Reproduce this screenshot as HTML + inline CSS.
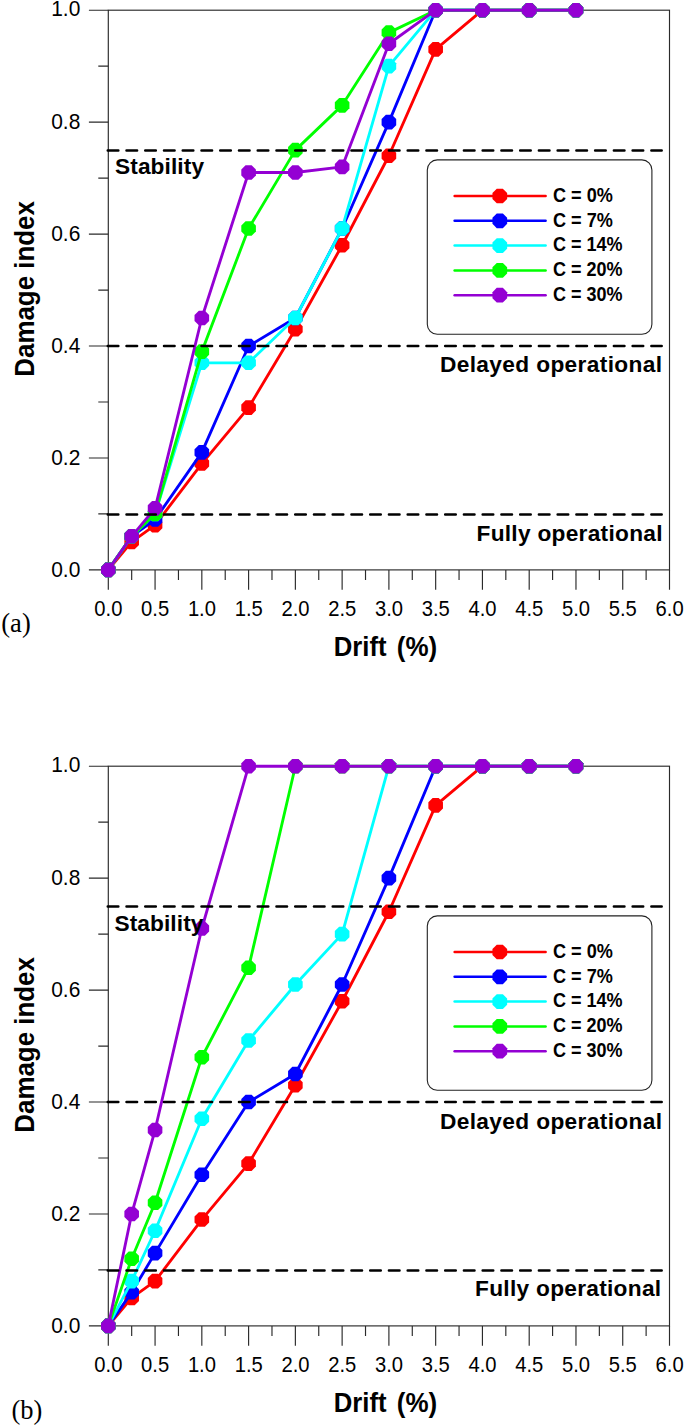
<!DOCTYPE html>
<html><head><meta charset="utf-8"><title>Damage index vs drift</title>
<style>
html,body{margin:0;padding:0;background:#fff;}
svg{display:block}
text{font-family:"Liberation Sans",sans-serif;fill:#000}
.tk{font-size:21.4px;fill:#000}
.an{font-size:22.7px;font-weight:bold}
.lg{font-size:20.1px;font-weight:bold}
.ax{font-size:28.1px;font-weight:bold}
.pl{font-family:"Liberation Serif",serif;font-size:26.5px}
</style></head><body>
<svg width="685" height="1425" viewBox="0 0 685 1425">
<rect width="685" height="1425" fill="#fff"/>
<g>
<rect x="108.3" y="10.2" width="561.20" height="559.70" fill="none" stroke="#2a2a2a" stroke-width="1.15"/>
<path d="M108.30 569.90v19.8M131.68 569.90v10M155.07 569.90v19.8M178.45 569.90v10M201.83 569.90v19.8M225.22 569.90v10M248.60 569.90v19.8M271.98 569.90v10M295.37 569.90v19.8M318.75 569.90v10M342.13 569.90v19.8M365.52 569.90v10M388.90 569.90v19.8M412.28 569.90v10M435.67 569.90v19.8M459.05 569.90v10M482.43 569.90v19.8M505.82 569.90v10M529.20 569.90v19.8M552.58 569.90v10M575.97 569.90v19.8M599.35 569.90v10M622.73 569.90v19.8M646.12 569.90v10M669.50 569.90v19.8M108.30 569.90h-19.4M108.30 513.93h-10M108.30 457.96h-19.4M108.30 401.99h-10M108.30 346.02h-19.4M108.30 290.05h-10M108.30 234.08h-19.4M108.30 178.11h-10M108.30 122.14h-19.4M108.30 66.17h-10M108.30 10.20h-19.4" stroke="#2a2a2a" stroke-width="1.15" fill="none"/>
<text class="tk" x="108.40" y="616.40" text-anchor="middle" textLength="28.1" lengthAdjust="spacingAndGlyphs">0.0</text>
<text class="tk" x="155.17" y="616.40" text-anchor="middle" textLength="28.1" lengthAdjust="spacingAndGlyphs">0.5</text>
<text class="tk" x="201.93" y="616.40" text-anchor="middle" textLength="28.1" lengthAdjust="spacingAndGlyphs">1.0</text>
<text class="tk" x="248.70" y="616.40" text-anchor="middle" textLength="28.1" lengthAdjust="spacingAndGlyphs">1.5</text>
<text class="tk" x="295.47" y="616.40" text-anchor="middle" textLength="28.1" lengthAdjust="spacingAndGlyphs">2.0</text>
<text class="tk" x="342.23" y="616.40" text-anchor="middle" textLength="28.1" lengthAdjust="spacingAndGlyphs">2.5</text>
<text class="tk" x="389.00" y="616.40" text-anchor="middle" textLength="28.1" lengthAdjust="spacingAndGlyphs">3.0</text>
<text class="tk" x="435.77" y="616.40" text-anchor="middle" textLength="28.1" lengthAdjust="spacingAndGlyphs">3.5</text>
<text class="tk" x="482.53" y="616.40" text-anchor="middle" textLength="28.1" lengthAdjust="spacingAndGlyphs">4.0</text>
<text class="tk" x="529.30" y="616.40" text-anchor="middle" textLength="28.1" lengthAdjust="spacingAndGlyphs">4.5</text>
<text class="tk" x="576.07" y="616.40" text-anchor="middle" textLength="28.1" lengthAdjust="spacingAndGlyphs">5.0</text>
<text class="tk" x="622.83" y="616.40" text-anchor="middle" textLength="28.1" lengthAdjust="spacingAndGlyphs">5.5</text>
<text class="tk" x="669.60" y="616.40" text-anchor="middle" textLength="28.1" lengthAdjust="spacingAndGlyphs">6.0</text>
<text class="tk" x="80.3" y="577.40" text-anchor="end" textLength="29.1" lengthAdjust="spacingAndGlyphs">0.0</text>
<text class="tk" x="80.3" y="465.34" text-anchor="end" textLength="29.1" lengthAdjust="spacingAndGlyphs">0.2</text>
<text class="tk" x="80.3" y="353.28" text-anchor="end" textLength="29.1" lengthAdjust="spacingAndGlyphs">0.4</text>
<text class="tk" x="80.3" y="241.22" text-anchor="end" textLength="29.1" lengthAdjust="spacingAndGlyphs">0.6</text>
<text class="tk" x="80.3" y="129.16" text-anchor="end" textLength="29.1" lengthAdjust="spacingAndGlyphs">0.8</text>
<text class="tk" x="80.3" y="16.20" text-anchor="end" textLength="29.1" lengthAdjust="spacingAndGlyphs">1.0</text>
<polyline points="108.30,569.90 131.68,541.91 155.07,525.12 201.83,463.56 248.60,407.59 295.37,329.23 342.13,245.27 388.90,155.72 435.67,49.38 482.43,10.20 529.20,10.20 575.97,10.20" fill="none" stroke="#ff0000" stroke-width="2.85" stroke-linejoin="round"/>
<polygon points="115.60,572.92 111.32,577.20 105.28,577.20 101.00,572.92 101.00,566.88 105.28,562.60 111.32,562.60 115.60,566.88" fill="#ff0000"/>
<polygon points="138.98,544.94 134.71,549.21 128.66,549.21 124.38,544.94 124.38,538.89 128.66,534.62 134.71,534.62 138.98,538.89" fill="#ff0000"/>
<polygon points="162.37,528.15 158.09,532.42 152.04,532.42 147.77,528.15 147.77,522.10 152.04,517.82 158.09,517.82 162.37,522.10" fill="#ff0000"/>
<polygon points="209.13,466.58 204.86,470.86 198.81,470.86 194.53,466.58 194.53,460.53 198.81,456.26 204.86,456.26 209.13,460.53" fill="#ff0000"/>
<polygon points="255.90,410.61 251.62,414.89 245.58,414.89 241.30,410.61 241.30,404.56 245.58,400.29 251.62,400.29 255.90,404.56" fill="#ff0000"/>
<polygon points="302.67,332.25 298.39,336.53 292.34,336.53 288.07,332.25 288.07,326.21 292.34,321.93 298.39,321.93 302.67,326.21" fill="#ff0000"/>
<polygon points="349.43,248.30 345.16,252.57 339.11,252.57 334.83,248.30 334.83,242.25 339.11,237.97 345.16,237.97 349.43,242.25" fill="#ff0000"/>
<polygon points="396.20,158.75 391.92,163.02 385.88,163.02 381.60,158.75 381.60,152.70 385.88,148.42 391.92,148.42 396.20,152.70" fill="#ff0000"/>
<polygon points="442.97,52.40 438.69,56.68 432.64,56.68 428.37,52.40 428.37,46.36 432.64,42.08 438.69,42.08 442.97,46.36" fill="#ff0000"/>
<polygon points="489.73,13.22 485.46,17.50 479.41,17.50 475.13,13.22 475.13,7.18 479.41,2.90 485.46,2.90 489.73,7.18" fill="#ff0000"/>
<polygon points="536.50,13.22 532.22,17.50 526.18,17.50 521.90,13.22 521.90,7.18 526.18,2.90 532.22,2.90 536.50,7.18" fill="#ff0000"/>
<polygon points="583.27,13.22 578.99,17.50 572.94,17.50 568.67,13.22 568.67,7.18 572.94,2.90 578.99,2.90 583.27,7.18" fill="#ff0000"/>
<polyline points="108.30,569.90 131.68,536.32 155.07,519.53 201.83,452.36 248.60,346.02 295.37,318.03 342.13,228.48 388.90,122.14 435.67,10.20 482.43,10.20 529.20,10.20 575.97,10.20" fill="none" stroke="#0000ff" stroke-width="2.85" stroke-linejoin="round"/>
<polygon points="115.60,572.92 111.32,577.20 105.28,577.20 101.00,572.92 101.00,566.88 105.28,562.60 111.32,562.60 115.60,566.88" fill="#0000ff"/>
<polygon points="138.98,539.34 134.71,543.62 128.66,543.62 124.38,539.34 124.38,533.29 128.66,529.02 134.71,529.02 138.98,533.29" fill="#0000ff"/>
<polygon points="162.37,522.55 158.09,526.83 152.04,526.83 147.77,522.55 147.77,516.50 152.04,512.23 158.09,512.23 162.37,516.50" fill="#0000ff"/>
<polygon points="209.13,455.39 204.86,459.66 198.81,459.66 194.53,455.39 194.53,449.34 198.81,445.06 204.86,445.06 209.13,449.34" fill="#0000ff"/>
<polygon points="255.90,349.04 251.62,353.32 245.58,353.32 241.30,349.04 241.30,343.00 245.58,338.72 251.62,338.72 255.90,343.00" fill="#0000ff"/>
<polygon points="302.67,321.06 298.39,325.33 292.34,325.33 288.07,321.06 288.07,315.01 292.34,310.73 298.39,310.73 302.67,315.01" fill="#0000ff"/>
<polygon points="349.43,231.51 345.16,235.78 339.11,235.78 334.83,231.51 334.83,225.46 339.11,221.18 345.16,221.18 349.43,225.46" fill="#0000ff"/>
<polygon points="396.20,125.16 391.92,129.44 385.88,129.44 381.60,125.16 381.60,119.12 385.88,114.84 391.92,114.84 396.20,119.12" fill="#0000ff"/>
<polygon points="442.97,13.22 438.69,17.50 432.64,17.50 428.37,13.22 428.37,7.18 432.64,2.90 438.69,2.90 442.97,7.18" fill="#0000ff"/>
<polygon points="489.73,13.22 485.46,17.50 479.41,17.50 475.13,13.22 475.13,7.18 479.41,2.90 485.46,2.90 489.73,7.18" fill="#0000ff"/>
<polygon points="536.50,13.22 532.22,17.50 526.18,17.50 521.90,13.22 521.90,7.18 526.18,2.90 532.22,2.90 536.50,7.18" fill="#0000ff"/>
<polygon points="583.27,13.22 578.99,17.50 572.94,17.50 568.67,13.22 568.67,7.18 572.94,2.90 578.99,2.90 583.27,7.18" fill="#0000ff"/>
<polyline points="108.30,569.90 131.68,536.32 155.07,513.93 201.83,362.81 248.60,362.81 295.37,318.03 342.13,228.48 388.90,66.17 435.67,10.20 482.43,10.20 529.20,10.20 575.97,10.20" fill="none" stroke="#00ffff" stroke-width="2.85" stroke-linejoin="round"/>
<polygon points="115.60,572.92 111.32,577.20 105.28,577.20 101.00,572.92 101.00,566.88 105.28,562.60 111.32,562.60 115.60,566.88" fill="#00ffff"/>
<polygon points="138.98,539.34 134.71,543.62 128.66,543.62 124.38,539.34 124.38,533.29 128.66,529.02 134.71,529.02 138.98,533.29" fill="#00ffff"/>
<polygon points="162.37,516.95 158.09,521.23 152.04,521.23 147.77,516.95 147.77,510.91 152.04,506.63 158.09,506.63 162.37,510.91" fill="#00ffff"/>
<polygon points="209.13,365.83 204.86,370.11 198.81,370.11 194.53,365.83 194.53,359.79 198.81,355.51 204.86,355.51 209.13,359.79" fill="#00ffff"/>
<polygon points="255.90,365.83 251.62,370.11 245.58,370.11 241.30,365.83 241.30,359.79 245.58,355.51 251.62,355.51 255.90,359.79" fill="#00ffff"/>
<polygon points="302.67,321.06 298.39,325.33 292.34,325.33 288.07,321.06 288.07,315.01 292.34,310.73 298.39,310.73 302.67,315.01" fill="#00ffff"/>
<polygon points="349.43,231.51 345.16,235.78 339.11,235.78 334.83,231.51 334.83,225.46 339.11,221.18 345.16,221.18 349.43,225.46" fill="#00ffff"/>
<polygon points="396.20,69.19 391.92,73.47 385.88,73.47 381.60,69.19 381.60,63.15 385.88,58.87 391.92,58.87 396.20,63.15" fill="#00ffff"/>
<polygon points="442.97,13.22 438.69,17.50 432.64,17.50 428.37,13.22 428.37,7.18 432.64,2.90 438.69,2.90 442.97,7.18" fill="#00ffff"/>
<polygon points="489.73,13.22 485.46,17.50 479.41,17.50 475.13,13.22 475.13,7.18 479.41,2.90 485.46,2.90 489.73,7.18" fill="#00ffff"/>
<polygon points="536.50,13.22 532.22,17.50 526.18,17.50 521.90,13.22 521.90,7.18 526.18,2.90 532.22,2.90 536.50,7.18" fill="#00ffff"/>
<polygon points="583.27,13.22 578.99,17.50 572.94,17.50 568.67,13.22 568.67,7.18 572.94,2.90 578.99,2.90 583.27,7.18" fill="#00ffff"/>
<polyline points="108.30,569.90 131.68,536.32 155.07,513.93 201.83,351.62 248.60,228.48 295.37,150.12 342.13,105.35 388.90,32.59 435.67,10.20 482.43,10.20 529.20,10.20 575.97,10.20" fill="none" stroke="#00ff00" stroke-width="2.85" stroke-linejoin="round"/>
<polygon points="115.60,572.92 111.32,577.20 105.28,577.20 101.00,572.92 101.00,566.88 105.28,562.60 111.32,562.60 115.60,566.88" fill="#00ff00"/>
<polygon points="138.98,539.34 134.71,543.62 128.66,543.62 124.38,539.34 124.38,533.29 128.66,529.02 134.71,529.02 138.98,533.29" fill="#00ff00"/>
<polygon points="162.37,516.95 158.09,521.23 152.04,521.23 147.77,516.95 147.77,510.91 152.04,506.63 158.09,506.63 162.37,510.91" fill="#00ff00"/>
<polygon points="209.13,354.64 204.86,358.92 198.81,358.92 194.53,354.64 194.53,348.59 198.81,344.32 204.86,344.32 209.13,348.59" fill="#00ff00"/>
<polygon points="255.90,231.51 251.62,235.78 245.58,235.78 241.30,231.51 241.30,225.46 245.58,221.18 251.62,221.18 255.90,225.46" fill="#00ff00"/>
<polygon points="302.67,153.15 298.39,157.43 292.34,157.43 288.07,153.15 288.07,147.10 292.34,142.82 298.39,142.82 302.67,147.10" fill="#00ff00"/>
<polygon points="349.43,108.37 345.16,112.65 339.11,112.65 334.83,108.37 334.83,102.33 339.11,98.05 345.16,98.05 349.43,102.33" fill="#00ff00"/>
<polygon points="396.20,35.61 391.92,39.89 385.88,39.89 381.60,35.61 381.60,29.56 385.88,25.29 391.92,25.29 396.20,29.56" fill="#00ff00"/>
<polygon points="442.97,13.22 438.69,17.50 432.64,17.50 428.37,13.22 428.37,7.18 432.64,2.90 438.69,2.90 442.97,7.18" fill="#00ff00"/>
<polygon points="489.73,13.22 485.46,17.50 479.41,17.50 475.13,13.22 475.13,7.18 479.41,2.90 485.46,2.90 489.73,7.18" fill="#00ff00"/>
<polygon points="536.50,13.22 532.22,17.50 526.18,17.50 521.90,13.22 521.90,7.18 526.18,2.90 532.22,2.90 536.50,7.18" fill="#00ff00"/>
<polygon points="583.27,13.22 578.99,17.50 572.94,17.50 568.67,13.22 568.67,7.18 572.94,2.90 578.99,2.90 583.27,7.18" fill="#00ff00"/>
<polyline points="108.30,569.90 131.68,536.32 155.07,508.33 201.83,318.03 248.60,172.51 295.37,172.51 342.13,166.92 388.90,43.78 435.67,10.20 482.43,10.20 529.20,10.20 575.97,10.20" fill="none" stroke="#9400d3" stroke-width="2.85" stroke-linejoin="round"/>
<polygon points="115.60,572.92 111.32,577.20 105.28,577.20 101.00,572.92 101.00,566.88 105.28,562.60 111.32,562.60 115.60,566.88" fill="#9400d3"/>
<polygon points="138.98,539.34 134.71,543.62 128.66,543.62 124.38,539.34 124.38,533.29 128.66,529.02 134.71,529.02 138.98,533.29" fill="#9400d3"/>
<polygon points="162.37,511.36 158.09,515.63 152.04,515.63 147.77,511.36 147.77,505.31 152.04,501.03 158.09,501.03 162.37,505.31" fill="#9400d3"/>
<polygon points="209.13,321.06 204.86,325.33 198.81,325.33 194.53,321.06 194.53,315.01 198.81,310.73 204.86,310.73 209.13,315.01" fill="#9400d3"/>
<polygon points="255.90,175.54 251.62,179.81 245.58,179.81 241.30,175.54 241.30,169.49 245.58,165.21 251.62,165.21 255.90,169.49" fill="#9400d3"/>
<polygon points="302.67,175.54 298.39,179.81 292.34,179.81 288.07,175.54 288.07,169.49 292.34,165.21 298.39,165.21 302.67,169.49" fill="#9400d3"/>
<polygon points="349.43,169.94 345.16,174.22 339.11,174.22 334.83,169.94 334.83,163.89 339.11,159.62 345.16,159.62 349.43,163.89" fill="#9400d3"/>
<polygon points="396.20,46.81 391.92,51.08 385.88,51.08 381.60,46.81 381.60,40.76 385.88,36.48 391.92,36.48 396.20,40.76" fill="#9400d3"/>
<polygon points="442.97,13.22 438.69,17.50 432.64,17.50 428.37,13.22 428.37,7.18 432.64,2.90 438.69,2.90 442.97,7.18" fill="#9400d3"/>
<polygon points="489.73,13.22 485.46,17.50 479.41,17.50 475.13,13.22 475.13,7.18 479.41,2.90 485.46,2.90 489.73,7.18" fill="#9400d3"/>
<polygon points="536.50,13.22 532.22,17.50 526.18,17.50 521.90,13.22 521.90,7.18 526.18,2.90 532.22,2.90 536.50,7.18" fill="#9400d3"/>
<polygon points="583.27,13.22 578.99,17.50 572.94,17.50 568.67,13.22 568.67,7.18 572.94,2.90 578.99,2.90 583.27,7.18" fill="#9400d3"/>
<line x1="107.75" y1="150.50" x2="661.7" y2="150.50" stroke="#000" stroke-width="2.5" stroke-linecap="round" stroke-dasharray="10.6 8.145"/>
<line x1="107.75" y1="346.00" x2="661.7" y2="346.00" stroke="#000" stroke-width="2.5" stroke-linecap="round" stroke-dasharray="10.6 8.145"/>
<line x1="107.75" y1="514.40" x2="661.7" y2="514.40" stroke="#000" stroke-width="2.5" stroke-linecap="round" stroke-dasharray="10.6 8.145"/>
<text class="an" x="115" y="174.3" textLength="89" lengthAdjust="spacing">Stability</text>
<text class="an" x="439.9" y="371.7" textLength="222.2" lengthAdjust="spacing">Delayed operational</text>
<text class="an" x="476.5" y="541.3" textLength="186.0" lengthAdjust="spacing">Fully operational</text>
<rect x="427.3" y="159.9" width="224.6" height="174.3" rx="10" ry="10" fill="#fff" stroke="#222" stroke-width="1.1"/>
<line x1="454.6" y1="196.00" x2="545.6" y2="196.00" stroke="#ff0000" stroke-width="2.5" stroke-linecap="round"/>
<polygon points="507.15,199.04 502.84,203.35 496.76,203.35 492.45,199.04 492.45,192.96 496.76,188.65 502.84,188.65 507.15,192.96" fill="#ff0000"/>
<text class="lg" x="553.0" y="201.70" textLength="59.9" lengthAdjust="spacingAndGlyphs">C = 0%</text>
<line x1="454.6" y1="220.80" x2="545.6" y2="220.80" stroke="#0000ff" stroke-width="2.5" stroke-linecap="round"/>
<polygon points="507.15,223.84 502.84,228.15 496.76,228.15 492.45,223.84 492.45,217.76 496.76,213.45 502.84,213.45 507.15,217.76" fill="#0000ff"/>
<text class="lg" x="553.0" y="226.50" textLength="59.9" lengthAdjust="spacingAndGlyphs">C = 7%</text>
<line x1="454.6" y1="245.60" x2="545.6" y2="245.60" stroke="#00ffff" stroke-width="2.5" stroke-linecap="round"/>
<polygon points="507.15,248.64 502.84,252.95 496.76,252.95 492.45,248.64 492.45,242.56 496.76,238.25 502.84,238.25 507.15,242.56" fill="#00ffff"/>
<text class="lg" x="553.0" y="251.30" textLength="69.6" lengthAdjust="spacingAndGlyphs">C = 14%</text>
<line x1="454.6" y1="270.40" x2="545.6" y2="270.40" stroke="#00ff00" stroke-width="2.5" stroke-linecap="round"/>
<polygon points="507.15,273.44 502.84,277.75 496.76,277.75 492.45,273.44 492.45,267.36 496.76,263.05 502.84,263.05 507.15,267.36" fill="#00ff00"/>
<text class="lg" x="553.0" y="276.10" textLength="69.6" lengthAdjust="spacingAndGlyphs">C = 20%</text>
<line x1="454.6" y1="295.20" x2="545.6" y2="295.20" stroke="#9400d3" stroke-width="2.5" stroke-linecap="round"/>
<polygon points="507.15,298.24 502.84,302.55 496.76,302.55 492.45,298.24 492.45,292.16 496.76,287.85 502.84,287.85 507.15,292.16" fill="#9400d3"/>
<text class="lg" x="553.0" y="300.90" textLength="69.6" lengthAdjust="spacingAndGlyphs">C = 30%</text>
<text class="ax" x="333.8" y="656.3" textLength="52.8" lengthAdjust="spacingAndGlyphs">Drift</text>
<text class="ax" x="396.8" y="656.3" textLength="40.4" lengthAdjust="spacingAndGlyphs">(%)</text>
<text class="ax" transform="translate(34.3 288.9) rotate(-90)" text-anchor="middle" textLength="175.6" lengthAdjust="spacingAndGlyphs">Damage index</text>
<text class="pl" x="1.3" y="632.1">(a)</text>
</g>
<g>
<rect x="108.3" y="766.2" width="561.20" height="559.70" fill="none" stroke="#2a2a2a" stroke-width="1.15"/>
<path d="M108.30 1325.90v19.8M131.68 1325.90v10M155.07 1325.90v19.8M178.45 1325.90v10M201.83 1325.90v19.8M225.22 1325.90v10M248.60 1325.90v19.8M271.98 1325.90v10M295.37 1325.90v19.8M318.75 1325.90v10M342.13 1325.90v19.8M365.52 1325.90v10M388.90 1325.90v19.8M412.28 1325.90v10M435.67 1325.90v19.8M459.05 1325.90v10M482.43 1325.90v19.8M505.82 1325.90v10M529.20 1325.90v19.8M552.58 1325.90v10M575.97 1325.90v19.8M599.35 1325.90v10M622.73 1325.90v19.8M646.12 1325.90v10M669.50 1325.90v19.8M108.30 1325.90h-19.4M108.30 1269.93h-10M108.30 1213.96h-19.4M108.30 1157.99h-10M108.30 1102.02h-19.4M108.30 1046.05h-10M108.30 990.08h-19.4M108.30 934.11h-10M108.30 878.14h-19.4M108.30 822.17h-10M108.30 766.20h-19.4" stroke="#2a2a2a" stroke-width="1.15" fill="none"/>
<text class="tk" x="108.40" y="1372.40" text-anchor="middle" textLength="28.1" lengthAdjust="spacingAndGlyphs">0.0</text>
<text class="tk" x="155.17" y="1372.40" text-anchor="middle" textLength="28.1" lengthAdjust="spacingAndGlyphs">0.5</text>
<text class="tk" x="201.93" y="1372.40" text-anchor="middle" textLength="28.1" lengthAdjust="spacingAndGlyphs">1.0</text>
<text class="tk" x="248.70" y="1372.40" text-anchor="middle" textLength="28.1" lengthAdjust="spacingAndGlyphs">1.5</text>
<text class="tk" x="295.47" y="1372.40" text-anchor="middle" textLength="28.1" lengthAdjust="spacingAndGlyphs">2.0</text>
<text class="tk" x="342.23" y="1372.40" text-anchor="middle" textLength="28.1" lengthAdjust="spacingAndGlyphs">2.5</text>
<text class="tk" x="389.00" y="1372.40" text-anchor="middle" textLength="28.1" lengthAdjust="spacingAndGlyphs">3.0</text>
<text class="tk" x="435.77" y="1372.40" text-anchor="middle" textLength="28.1" lengthAdjust="spacingAndGlyphs">3.5</text>
<text class="tk" x="482.53" y="1372.40" text-anchor="middle" textLength="28.1" lengthAdjust="spacingAndGlyphs">4.0</text>
<text class="tk" x="529.30" y="1372.40" text-anchor="middle" textLength="28.1" lengthAdjust="spacingAndGlyphs">4.5</text>
<text class="tk" x="576.07" y="1372.40" text-anchor="middle" textLength="28.1" lengthAdjust="spacingAndGlyphs">5.0</text>
<text class="tk" x="622.83" y="1372.40" text-anchor="middle" textLength="28.1" lengthAdjust="spacingAndGlyphs">5.5</text>
<text class="tk" x="669.60" y="1372.40" text-anchor="middle" textLength="28.1" lengthAdjust="spacingAndGlyphs">6.0</text>
<text class="tk" x="80.3" y="1333.40" text-anchor="end" textLength="29.1" lengthAdjust="spacingAndGlyphs">0.0</text>
<text class="tk" x="80.3" y="1221.34" text-anchor="end" textLength="29.1" lengthAdjust="spacingAndGlyphs">0.2</text>
<text class="tk" x="80.3" y="1109.28" text-anchor="end" textLength="29.1" lengthAdjust="spacingAndGlyphs">0.4</text>
<text class="tk" x="80.3" y="997.22" text-anchor="end" textLength="29.1" lengthAdjust="spacingAndGlyphs">0.6</text>
<text class="tk" x="80.3" y="885.16" text-anchor="end" textLength="29.1" lengthAdjust="spacingAndGlyphs">0.8</text>
<text class="tk" x="80.3" y="772.20" text-anchor="end" textLength="29.1" lengthAdjust="spacingAndGlyphs">1.0</text>
<polyline points="108.30,1325.90 131.68,1297.91 155.07,1281.12 201.83,1219.56 248.60,1163.59 295.37,1085.23 342.13,1001.27 388.90,911.72 435.67,805.38 482.43,766.20 529.20,766.20 575.97,766.20" fill="none" stroke="#ff0000" stroke-width="2.85" stroke-linejoin="round"/>
<polygon points="115.60,1328.92 111.32,1333.20 105.28,1333.20 101.00,1328.92 101.00,1322.88 105.28,1318.60 111.32,1318.60 115.60,1322.88" fill="#ff0000"/>
<polygon points="138.98,1300.94 134.71,1305.21 128.66,1305.21 124.38,1300.94 124.38,1294.89 128.66,1290.62 134.71,1290.62 138.98,1294.89" fill="#ff0000"/>
<polygon points="162.37,1284.15 158.09,1288.42 152.04,1288.42 147.77,1284.15 147.77,1278.10 152.04,1273.82 158.09,1273.82 162.37,1278.10" fill="#ff0000"/>
<polygon points="209.13,1222.58 204.86,1226.86 198.81,1226.86 194.53,1222.58 194.53,1216.53 198.81,1212.26 204.86,1212.26 209.13,1216.53" fill="#ff0000"/>
<polygon points="255.90,1166.61 251.62,1170.89 245.58,1170.89 241.30,1166.61 241.30,1160.56 245.58,1156.29 251.62,1156.29 255.90,1160.56" fill="#ff0000"/>
<polygon points="302.67,1088.25 298.39,1092.53 292.34,1092.53 288.07,1088.25 288.07,1082.21 292.34,1077.93 298.39,1077.93 302.67,1082.21" fill="#ff0000"/>
<polygon points="349.43,1004.30 345.16,1008.57 339.11,1008.57 334.83,1004.30 334.83,998.25 339.11,993.97 345.16,993.97 349.43,998.25" fill="#ff0000"/>
<polygon points="396.20,914.75 391.92,919.02 385.88,919.02 381.60,914.75 381.60,908.70 385.88,904.42 391.92,904.42 396.20,908.70" fill="#ff0000"/>
<polygon points="442.97,808.40 438.69,812.68 432.64,812.68 428.37,808.40 428.37,802.36 432.64,798.08 438.69,798.08 442.97,802.36" fill="#ff0000"/>
<polygon points="489.73,769.22 485.46,773.50 479.41,773.50 475.13,769.22 475.13,763.18 479.41,758.90 485.46,758.90 489.73,763.18" fill="#ff0000"/>
<polygon points="536.50,769.22 532.22,773.50 526.18,773.50 521.90,769.22 521.90,763.18 526.18,758.90 532.22,758.90 536.50,763.18" fill="#ff0000"/>
<polygon points="583.27,769.22 578.99,773.50 572.94,773.50 568.67,769.22 568.67,763.18 572.94,758.90 578.99,758.90 583.27,763.18" fill="#ff0000"/>
<polyline points="108.30,1325.90 131.68,1292.32 155.07,1253.14 201.83,1174.78 248.60,1102.02 295.37,1074.03 342.13,984.48 388.90,878.14 435.67,766.20 482.43,766.20 529.20,766.20 575.97,766.20" fill="none" stroke="#0000ff" stroke-width="2.85" stroke-linejoin="round"/>
<polygon points="115.60,1328.92 111.32,1333.20 105.28,1333.20 101.00,1328.92 101.00,1322.88 105.28,1318.60 111.32,1318.60 115.60,1322.88" fill="#0000ff"/>
<polygon points="138.98,1295.34 134.71,1299.62 128.66,1299.62 124.38,1295.34 124.38,1289.29 128.66,1285.02 134.71,1285.02 138.98,1289.29" fill="#0000ff"/>
<polygon points="162.37,1256.16 158.09,1260.44 152.04,1260.44 147.77,1256.16 147.77,1250.12 152.04,1245.84 158.09,1245.84 162.37,1250.12" fill="#0000ff"/>
<polygon points="209.13,1177.80 204.86,1182.08 198.81,1182.08 194.53,1177.80 194.53,1171.76 198.81,1167.48 204.86,1167.48 209.13,1171.76" fill="#0000ff"/>
<polygon points="255.90,1105.04 251.62,1109.32 245.58,1109.32 241.30,1105.04 241.30,1099.00 245.58,1094.72 251.62,1094.72 255.90,1099.00" fill="#0000ff"/>
<polygon points="302.67,1077.06 298.39,1081.33 292.34,1081.33 288.07,1077.06 288.07,1071.01 292.34,1066.73 298.39,1066.73 302.67,1071.01" fill="#0000ff"/>
<polygon points="349.43,987.51 345.16,991.78 339.11,991.78 334.83,987.51 334.83,981.46 339.11,977.18 345.16,977.18 349.43,981.46" fill="#0000ff"/>
<polygon points="396.20,881.16 391.92,885.44 385.88,885.44 381.60,881.16 381.60,875.12 385.88,870.84 391.92,870.84 396.20,875.12" fill="#0000ff"/>
<polygon points="442.97,769.22 438.69,773.50 432.64,773.50 428.37,769.22 428.37,763.18 432.64,758.90 438.69,758.90 442.97,763.18" fill="#0000ff"/>
<polygon points="489.73,769.22 485.46,773.50 479.41,773.50 475.13,769.22 475.13,763.18 479.41,758.90 485.46,758.90 489.73,763.18" fill="#0000ff"/>
<polygon points="536.50,769.22 532.22,773.50 526.18,773.50 521.90,769.22 521.90,763.18 526.18,758.90 532.22,758.90 536.50,763.18" fill="#0000ff"/>
<polygon points="583.27,769.22 578.99,773.50 572.94,773.50 568.67,769.22 568.67,763.18 572.94,758.90 578.99,758.90 583.27,763.18" fill="#0000ff"/>
<polyline points="108.30,1325.90 131.68,1281.12 155.07,1230.75 201.83,1118.81 248.60,1040.45 295.37,984.48 342.13,934.11 388.90,766.20 435.67,766.20 482.43,766.20 529.20,766.20 575.97,766.20" fill="none" stroke="#00ffff" stroke-width="2.85" stroke-linejoin="round"/>
<polygon points="115.60,1328.92 111.32,1333.20 105.28,1333.20 101.00,1328.92 101.00,1322.88 105.28,1318.60 111.32,1318.60 115.60,1322.88" fill="#00ffff"/>
<polygon points="138.98,1284.15 134.71,1288.42 128.66,1288.42 124.38,1284.15 124.38,1278.10 128.66,1273.82 134.71,1273.82 138.98,1278.10" fill="#00ffff"/>
<polygon points="162.37,1233.77 158.09,1238.05 152.04,1238.05 147.77,1233.77 147.77,1227.73 152.04,1223.45 158.09,1223.45 162.37,1227.73" fill="#00ffff"/>
<polygon points="209.13,1121.83 204.86,1126.11 198.81,1126.11 194.53,1121.83 194.53,1115.79 198.81,1111.51 204.86,1111.51 209.13,1115.79" fill="#00ffff"/>
<polygon points="255.90,1043.48 251.62,1047.75 245.58,1047.75 241.30,1043.48 241.30,1037.43 245.58,1033.15 251.62,1033.15 255.90,1037.43" fill="#00ffff"/>
<polygon points="302.67,987.51 298.39,991.78 292.34,991.78 288.07,987.51 288.07,981.46 292.34,977.18 298.39,977.18 302.67,981.46" fill="#00ffff"/>
<polygon points="349.43,937.13 345.16,941.41 339.11,941.41 334.83,937.13 334.83,931.09 339.11,926.81 345.16,926.81 349.43,931.09" fill="#00ffff"/>
<polygon points="396.20,769.22 391.92,773.50 385.88,773.50 381.60,769.22 381.60,763.18 385.88,758.90 391.92,758.90 396.20,763.18" fill="#00ffff"/>
<polygon points="442.97,769.22 438.69,773.50 432.64,773.50 428.37,769.22 428.37,763.18 432.64,758.90 438.69,758.90 442.97,763.18" fill="#00ffff"/>
<polygon points="489.73,769.22 485.46,773.50 479.41,773.50 475.13,769.22 475.13,763.18 479.41,758.90 485.46,758.90 489.73,763.18" fill="#00ffff"/>
<polygon points="536.50,769.22 532.22,773.50 526.18,773.50 521.90,769.22 521.90,763.18 526.18,758.90 532.22,758.90 536.50,763.18" fill="#00ffff"/>
<polygon points="583.27,769.22 578.99,773.50 572.94,773.50 568.67,769.22 568.67,763.18 572.94,758.90 578.99,758.90 583.27,763.18" fill="#00ffff"/>
<polyline points="108.30,1325.90 131.68,1258.74 155.07,1202.77 201.83,1057.24 248.60,967.69 295.37,766.20 342.13,766.20 388.90,766.20 435.67,766.20 482.43,766.20 529.20,766.20 575.97,766.20" fill="none" stroke="#00ff00" stroke-width="2.85" stroke-linejoin="round"/>
<polygon points="115.60,1328.92 111.32,1333.20 105.28,1333.20 101.00,1328.92 101.00,1322.88 105.28,1318.60 111.32,1318.60 115.60,1322.88" fill="#00ff00"/>
<polygon points="138.98,1261.76 134.71,1266.04 128.66,1266.04 124.38,1261.76 124.38,1255.71 128.66,1251.44 134.71,1251.44 138.98,1255.71" fill="#00ff00"/>
<polygon points="162.37,1205.79 158.09,1210.07 152.04,1210.07 147.77,1205.79 147.77,1199.74 152.04,1195.47 158.09,1195.47 162.37,1199.74" fill="#00ff00"/>
<polygon points="209.13,1060.27 204.86,1064.54 198.81,1064.54 194.53,1060.27 194.53,1054.22 198.81,1049.94 204.86,1049.94 209.13,1054.22" fill="#00ff00"/>
<polygon points="255.90,970.72 251.62,974.99 245.58,974.99 241.30,970.72 241.30,964.67 245.58,960.39 251.62,960.39 255.90,964.67" fill="#00ff00"/>
<polygon points="302.67,769.22 298.39,773.50 292.34,773.50 288.07,769.22 288.07,763.18 292.34,758.90 298.39,758.90 302.67,763.18" fill="#00ff00"/>
<polygon points="349.43,769.22 345.16,773.50 339.11,773.50 334.83,769.22 334.83,763.18 339.11,758.90 345.16,758.90 349.43,763.18" fill="#00ff00"/>
<polygon points="396.20,769.22 391.92,773.50 385.88,773.50 381.60,769.22 381.60,763.18 385.88,758.90 391.92,758.90 396.20,763.18" fill="#00ff00"/>
<polygon points="442.97,769.22 438.69,773.50 432.64,773.50 428.37,769.22 428.37,763.18 432.64,758.90 438.69,758.90 442.97,763.18" fill="#00ff00"/>
<polygon points="489.73,769.22 485.46,773.50 479.41,773.50 475.13,769.22 475.13,763.18 479.41,758.90 485.46,758.90 489.73,763.18" fill="#00ff00"/>
<polygon points="536.50,769.22 532.22,773.50 526.18,773.50 521.90,769.22 521.90,763.18 526.18,758.90 532.22,758.90 536.50,763.18" fill="#00ff00"/>
<polygon points="583.27,769.22 578.99,773.50 572.94,773.50 568.67,769.22 568.67,763.18 572.94,758.90 578.99,758.90 583.27,763.18" fill="#00ff00"/>
<polyline points="108.30,1325.90 131.68,1213.96 155.07,1130.01 201.83,928.51 248.60,766.20 295.37,766.20 342.13,766.20 388.90,766.20 435.67,766.20 482.43,766.20 529.20,766.20 575.97,766.20" fill="none" stroke="#9400d3" stroke-width="2.85" stroke-linejoin="round"/>
<polygon points="115.60,1328.92 111.32,1333.20 105.28,1333.20 101.00,1328.92 101.00,1322.88 105.28,1318.60 111.32,1318.60 115.60,1322.88" fill="#9400d3"/>
<polygon points="138.98,1216.98 134.71,1221.26 128.66,1221.26 124.38,1216.98 124.38,1210.94 128.66,1206.66 134.71,1206.66 138.98,1210.94" fill="#9400d3"/>
<polygon points="162.37,1133.03 158.09,1137.31 152.04,1137.31 147.77,1133.03 147.77,1126.98 152.04,1122.71 158.09,1122.71 162.37,1126.98" fill="#9400d3"/>
<polygon points="209.13,931.54 204.86,935.81 198.81,935.81 194.53,931.54 194.53,925.49 198.81,921.21 204.86,921.21 209.13,925.49" fill="#9400d3"/>
<polygon points="255.90,769.22 251.62,773.50 245.58,773.50 241.30,769.22 241.30,763.18 245.58,758.90 251.62,758.90 255.90,763.18" fill="#9400d3"/>
<polygon points="302.67,769.22 298.39,773.50 292.34,773.50 288.07,769.22 288.07,763.18 292.34,758.90 298.39,758.90 302.67,763.18" fill="#9400d3"/>
<polygon points="349.43,769.22 345.16,773.50 339.11,773.50 334.83,769.22 334.83,763.18 339.11,758.90 345.16,758.90 349.43,763.18" fill="#9400d3"/>
<polygon points="396.20,769.22 391.92,773.50 385.88,773.50 381.60,769.22 381.60,763.18 385.88,758.90 391.92,758.90 396.20,763.18" fill="#9400d3"/>
<polygon points="442.97,769.22 438.69,773.50 432.64,773.50 428.37,769.22 428.37,763.18 432.64,758.90 438.69,758.90 442.97,763.18" fill="#9400d3"/>
<polygon points="489.73,769.22 485.46,773.50 479.41,773.50 475.13,769.22 475.13,763.18 479.41,758.90 485.46,758.90 489.73,763.18" fill="#9400d3"/>
<polygon points="536.50,769.22 532.22,773.50 526.18,773.50 521.90,769.22 521.90,763.18 526.18,758.90 532.22,758.90 536.50,763.18" fill="#9400d3"/>
<polygon points="583.27,769.22 578.99,773.50 572.94,773.50 568.67,769.22 568.67,763.18 572.94,758.90 578.99,758.90 583.27,763.18" fill="#9400d3"/>
<line x1="107.75" y1="906.50" x2="661.7" y2="906.50" stroke="#000" stroke-width="2.5" stroke-linecap="round" stroke-dasharray="10.6 8.145"/>
<line x1="107.75" y1="1102.00" x2="661.7" y2="1102.00" stroke="#000" stroke-width="2.5" stroke-linecap="round" stroke-dasharray="10.6 8.145"/>
<line x1="107.75" y1="1270.40" x2="661.7" y2="1270.40" stroke="#000" stroke-width="2.5" stroke-linecap="round" stroke-dasharray="10.6 8.145"/>
<text class="an" x="114.4" y="931.4" textLength="89" lengthAdjust="spacing">Stability</text>
<text class="an" x="439.9" y="1128.5" textLength="222.2" lengthAdjust="spacing">Delayed operational</text>
<text class="an" x="475.1" y="1296.3" textLength="186.0" lengthAdjust="spacing">Fully operational</text>
<rect x="427.3" y="915.9" width="224.6" height="174.3" rx="10" ry="10" fill="#fff" stroke="#222" stroke-width="1.1"/>
<line x1="454.6" y1="952.00" x2="545.6" y2="952.00" stroke="#ff0000" stroke-width="2.5" stroke-linecap="round"/>
<polygon points="507.15,955.04 502.84,959.35 496.76,959.35 492.45,955.04 492.45,948.96 496.76,944.65 502.84,944.65 507.15,948.96" fill="#ff0000"/>
<text class="lg" x="553.0" y="957.70" textLength="59.9" lengthAdjust="spacingAndGlyphs">C = 0%</text>
<line x1="454.6" y1="976.80" x2="545.6" y2="976.80" stroke="#0000ff" stroke-width="2.5" stroke-linecap="round"/>
<polygon points="507.15,979.84 502.84,984.15 496.76,984.15 492.45,979.84 492.45,973.76 496.76,969.45 502.84,969.45 507.15,973.76" fill="#0000ff"/>
<text class="lg" x="553.0" y="982.50" textLength="59.9" lengthAdjust="spacingAndGlyphs">C = 7%</text>
<line x1="454.6" y1="1001.60" x2="545.6" y2="1001.60" stroke="#00ffff" stroke-width="2.5" stroke-linecap="round"/>
<polygon points="507.15,1004.64 502.84,1008.95 496.76,1008.95 492.45,1004.64 492.45,998.56 496.76,994.25 502.84,994.25 507.15,998.56" fill="#00ffff"/>
<text class="lg" x="553.0" y="1007.30" textLength="69.6" lengthAdjust="spacingAndGlyphs">C = 14%</text>
<line x1="454.6" y1="1026.40" x2="545.6" y2="1026.40" stroke="#00ff00" stroke-width="2.5" stroke-linecap="round"/>
<polygon points="507.15,1029.44 502.84,1033.75 496.76,1033.75 492.45,1029.44 492.45,1023.36 496.76,1019.05 502.84,1019.05 507.15,1023.36" fill="#00ff00"/>
<text class="lg" x="553.0" y="1032.10" textLength="69.6" lengthAdjust="spacingAndGlyphs">C = 20%</text>
<line x1="454.6" y1="1051.20" x2="545.6" y2="1051.20" stroke="#9400d3" stroke-width="2.5" stroke-linecap="round"/>
<polygon points="507.15,1054.24 502.84,1058.55 496.76,1058.55 492.45,1054.24 492.45,1048.16 496.76,1043.85 502.84,1043.85 507.15,1048.16" fill="#9400d3"/>
<text class="lg" x="553.0" y="1056.90" textLength="69.6" lengthAdjust="spacingAndGlyphs">C = 30%</text>
<text class="ax" x="333.8" y="1412.3" textLength="52.8" lengthAdjust="spacingAndGlyphs">Drift</text>
<text class="ax" x="396.8" y="1412.3" textLength="40.4" lengthAdjust="spacingAndGlyphs">(%)</text>
<text class="ax" transform="translate(34.3 1044.9) rotate(-90)" text-anchor="middle" textLength="175.6" lengthAdjust="spacingAndGlyphs">Damage index</text>
<text class="pl" x="11.5" y="1418.8">(b)</text>
</g>
</svg>
</body></html>
